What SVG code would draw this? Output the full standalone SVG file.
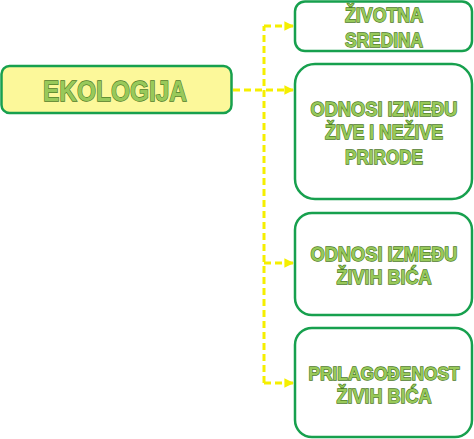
<svg xmlns="http://www.w3.org/2000/svg" width="474" height="439" viewBox="0 0 474 439">
<defs>
<marker id="arr" viewBox="0 0 10 10" refX="9" refY="5" markerWidth="3.2" markerHeight="3.2" orient="auto" markerUnits="strokeWidth">
<path d="M0,0 L10,5 L0,10 z" fill="#f5ef00"/>
</marker>
<style>
.box{fill:#ffffff;stroke:#17a04e;stroke-width:2.5}
.main{fill:#fcf89a;stroke:#17a04e;stroke-width:2.5}
.t{font-family:"Liberation Sans",Arial,sans-serif;font-weight:bold;fill:#98c95a;stroke:#4c7a27;stroke-width:1.3;paint-order:stroke;text-anchor:middle}
.s{font-size:20px}
.c{fill:none;stroke:#f5ef00;stroke-width:3;stroke-dasharray:7,4}
</style>
</defs>
<rect width="474" height="439" fill="#ffffff"/>
<g id="connectors">
<path class="c" d="M264,383 L264,26"/>
<path class="c" d="M233,90 L293,90" marker-end="url(#arr)"/>
<path class="c" d="M264,26 L293,26" marker-end="url(#arr)"/>
<path class="c" d="M264,263 L293,263" marker-end="url(#arr)"/>
<path class="c" d="M264,383 L293,383" marker-end="url(#arr)"/>
</g>
<g id="ekologija">
<rect class="main" x="1.5" y="66" width="230" height="47" rx="8"/>
<text class="t" x="115" y="101" font-size="29" stroke-width="1.5" textLength="144" lengthAdjust="spacingAndGlyphs">EKOLOGIJA</text>
</g>
<g id="zivotna-sredina">
<rect class="box" x="295" y="1.5" width="177" height="49.5" rx="10"/>
<text class="t s" x="384" y="22" textLength="78" lengthAdjust="spacingAndGlyphs">ŽIVOTNA</text>
<text class="t s" x="384" y="47" textLength="78" lengthAdjust="spacingAndGlyphs">SREDINA</text>
</g>
<g id="odnosi-ziva-neziva">
<rect class="box" x="295" y="64" width="177" height="135" rx="20"/>
<text class="t s" x="384" y="116" textLength="147" lengthAdjust="spacingAndGlyphs">ODNOSI IZMEĐU</text>
<text class="t s" x="384" y="139" textLength="118" lengthAdjust="spacingAndGlyphs">ŽIVE I NEŽIVE</text>
<text class="t s" x="384" y="164" textLength="78" lengthAdjust="spacingAndGlyphs">PRIRODE</text>
</g>
<g id="odnosi-ziva-bica">
<rect class="box" x="295" y="213" width="177" height="102" rx="17"/>
<text class="t s" x="384" y="261" textLength="147" lengthAdjust="spacingAndGlyphs">ODNOSI IZMEĐU</text>
<text class="t s" x="384" y="284" textLength="95" lengthAdjust="spacingAndGlyphs">ŽIVIH BIĆA</text>
</g>
<g id="prilagodenost">
<rect class="box" x="295" y="328" width="177" height="109" rx="17"/>
<text class="t" x="384" y="380" font-size="19" textLength="151" lengthAdjust="spacingAndGlyphs">PRILAGOĐENOST</text>
<text class="t s" x="384" y="403" textLength="95" lengthAdjust="spacingAndGlyphs">ŽIVIH BIĆA</text>
</g>
</svg>
